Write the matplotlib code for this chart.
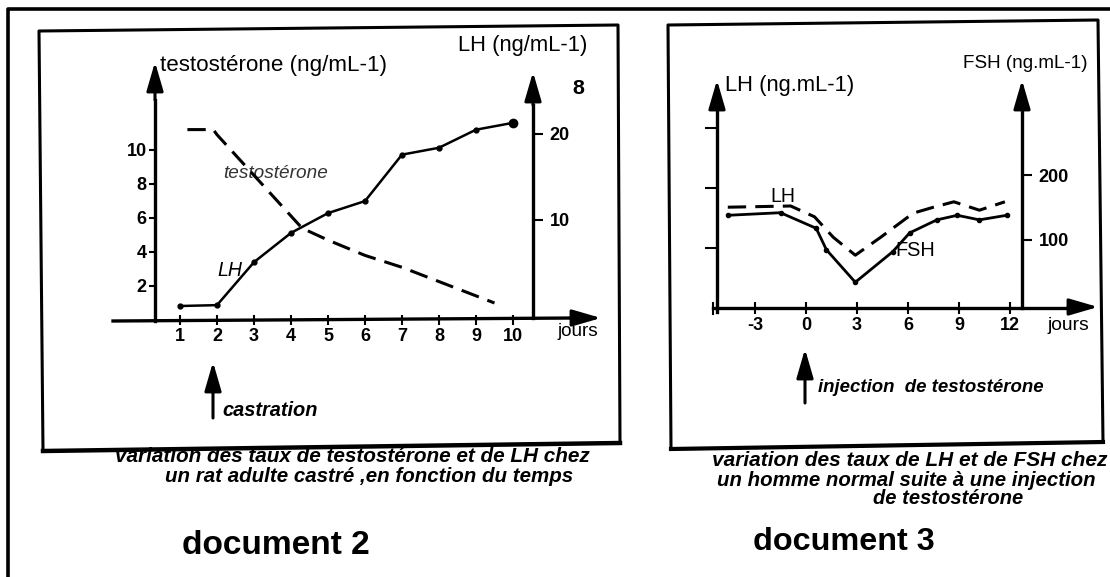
import matplotlib
matplotlib.use("Agg")
import matplotlib.pyplot as plt

W, H = 1110, 577

# ---- document 2 : rat castré ----
testo_days = [1.2, 1.9, 2.0, 4.3, 5.0, 6.0, 7.0, 9.5]
testo_vals = [11.2, 11.2, 10.9, 5.4, 4.7, 3.8, 3.1, 1.0]
lh_rat_days = [1, 2, 3, 4, 5, 6, 7, 8, 9, 10]
lh_rat_vals = [0.0, 0.1, 5.1, 8.5, 10.8, 12.2, 17.6, 18.4, 20.5, 21.3]
rat_xticks = [1, 2, 3, 4, 5, 6, 7, 8, 9, 10]
testo_yticks = [2, 4, 6, 8, 10]
lh_rat_yticks = [10, 20]

# ---- document 3 : injection de testostérone ----
lh_man_days = [-4.6, -0.9, 0.5, 1.6, 2.9, 4.4, 6.3, 7.5, 8.7, 10.2, 11.7]
lh_man_vals = [1.68, 1.70, 1.52, 1.18, 0.88, 1.18, 1.58, 1.68, 1.77, 1.63, 1.77]
fsh_days = [-4.6, -1.5, 0.6, 1.2, 2.9, 5.1, 6.1, 7.7, 8.9, 10.2, 11.8]
fsh_vals = [138, 142, 118, 85, 35, 82, 111, 131, 138, 131, 138]
man_xticks = [-3, 0, 3, 6, 9, 12]
lh_man_yticks = [1, 2, 3]
fsh_yticks = [100, 200]

plt.rcParams["font.family"] = ["Liberation Sans", "DejaVu Sans"]
plt.rcParams["axes.unicode_minus"] = False
fig = plt.figure(figsize=(W / 100, H / 100), dpi=100)
ov = fig.add_axes([0, 0, 1, 1])
ov.set_xlim(0, W)
ov.set_ylim(H, 0)
ov.axis("off")
renderer = fig.canvas.get_renderer()


def px_axes(x0, x1, ytop, ybot):
    return fig.add_axes([x0 / W, 1 - ybot / H, (x1 - x0) / W, (ybot - ytop) / H])


def fit_text(x0, x1, y, s, **kw):
    # texte posé en pixels, taille ajustée pour occuper x0..x1
    t = ov.text(x0, y, s, ha="left", va="center", fontsize=10, **kw)
    w = t.get_window_extent(renderer).width
    t.set_fontsize(10 * (x1 - x0) / w)
    return t


def line(pts, lw=2.5):
    xs, ys = zip(*pts)
    ov.plot(xs, ys, color="k", lw=lw, solid_capstyle="projecting")


def arrow(tip, base, lw=2.2):
    ov.annotate("", xy=tip, xytext=base,
                arrowprops=dict(arrowstyle="-|>,head_length=1.1,head_width=0.32",
                                mutation_scale=16, lw=lw, color="k",
                                shrinkA=0, shrinkB=0))


def clean(ax):
    for s in ax.spines.values():
        s.set_visible(False)
    ax.set_facecolor("none")


tick_font = dict(labelsize=13)

# cadre général + cadres des deux documents
line([(8, 577), (8, 9), (1110, 9)], lw=2.6)
line([(43, 451), (39, 31), (618, 25), (620, 443)], lw=2.2)
line([(43, 451), (620, 443)], lw=3.2)
line([(671, 449), (668, 25), (1098, 20), (1103, 442)], lw=2.2)
line([(671, 449), (1103, 442)], lw=3.0)

# ---------- document 2 ----------
line([(113, 321), (575, 318)], lw=2.4)
arrow((601, 318), (570, 318))
line([(155, 321), (155, 100)], lw=2.4)
arrow((155, 62), (155, 100))
line([(533, 318), (533, 105)], lw=2.4)
arrow((533, 72), (533, 105))

ax1 = px_axes(155, 533, 40, 320)
clean(ax1)
ax1.set_xlim((155 - 143) / 37, (533 - 143) / 37)
ax1.set_ylim(0, (320 - 40) / 17)
ax1.plot(testo_days, testo_vals, color="k", lw=2.2, dashes=(6, 3))
ax1.set_xticks(rat_xticks)
ax1.set_yticks(testo_yticks)
ax1.tick_params(axis="x", direction="inout", length=7, width=1.5, pad=2, **tick_font)
ax1.tick_params(axis="y", direction="out", length=4, width=1.5, pad=2, **tick_font)
ax1r = ax1.twinx()
clean(ax1r)
ax1r.set_ylim((306 - 320) / 8.6, (306 - 40) / 8.6)
ax1r.plot(lh_rat_days, lh_rat_vals, color="k", lw=1.8, marker="o", markersize=3.5)
ax1r.plot(lh_rat_days[-1:], lh_rat_vals[-1:], "o", color="k", markersize=6)
ax1r.set_yticks(lh_rat_yticks)
ax1r.tick_params(axis="y", direction="out", length=7, width=1.5, pad=5, **tick_font)
for ax in (ax1, ax1r):
    for lab in ax.get_xticklabels() + ax.get_yticklabels():
        lab.set_fontweight("bold")

fit_text(160, 387, 66, "testostérone (ng/mL-1)")
fit_text(458, 588, 45, "LH (ng/mL-1)")
fit_text(572, 584, 89, "8", weight="bold")
fit_text(557, 598, 332, "jours")
fit_text(223, 328, 173, "testostérone", style="italic", color="#333333")
fit_text(217, 242, 270, "LH", style="italic")
arrow((213, 362), (213, 418))
fit_text(222, 318, 410, "castration", style="italic", weight="bold")
fit_text(115, 592, 457, "variation des taux de testostérone et de LH chez",
         style="italic", weight="bold")
fit_text(165, 573, 477, "un rat adulte castré ,en fonction du temps",
         style="italic", weight="bold")
fit_text(182, 370, 546, "document 2", weight="bold")

# ---------- document 3 ----------
line([(713, 308), (1070, 308)], lw=2.4)
arrow((1098, 307), (1068, 307))
line([(717, 312), (717, 108)], lw=2.4)
arrow((717, 80), (717, 110))
line([(1022, 308), (1022, 108)], lw=2.4)
arrow((1022, 80), (1022, 110))
line([(713, 303), (713, 314)], lw=1.5)

ax2 = px_axes(717, 1022, 60, 308)
clean(ax2)
ax2.set_xlim((717 - 806) / 17, (1022 - 806) / 17)
ax2.set_ylim(0, (308 - 60) / 60)
ax2.plot(lh_man_days, lh_man_vals, color="k", lw=2.2, dashes=(6, 3))
ax2.set_xticks(man_xticks)
ax2.set_yticks(lh_man_yticks)
ax2.set_yticklabels([])
ax2.tick_params(axis="x", direction="inout", length=9, width=1.5, pad=2, **tick_font)
ax2.tick_params(axis="y", direction="out", length=9, width=1.5)
ax2r = ax2.twinx()
clean(ax2r)
ax2r.set_ylim((305 - 308) / 0.65, (305 - 60) / 0.65)
ax2r.plot(fsh_days, fsh_vals, color="k", lw=2.0, marker="o", markersize=3)
ax2r.set_yticks(fsh_yticks)
ax2r.tick_params(axis="y", direction="out", length=7, width=1.5, pad=5, **tick_font)
for ax in (ax2, ax2r):
    for lab in ax.get_xticklabels() + ax.get_yticklabels():
        lab.set_fontweight("bold")

fit_text(725, 855, 85, "LH (ng.mL-1)")
fit_text(963, 1088, 63, "FSH (ng.mL-1)")
fit_text(1048, 1090, 326, "jours")
fit_text(770, 795, 197, "LH")
fit_text(895, 935, 251, "FSH")
arrow((805, 349), (805, 403))
fit_text(818, 1045, 388, "injection  de testostérone", style="italic", weight="bold")
fit_text(712, 1108, 461, "variation des taux de LH et de FSH chez",
         style="italic", weight="bold")
fit_text(717, 1095, 480, "un homme normal suite à une injection",
         style="italic", weight="bold")
fit_text(873, 1023, 498, "de testostérone", style="italic", weight="bold")
fit_text(753, 935, 542, "document 3", weight="bold")

fig.savefig("out.png", dpi=100)
